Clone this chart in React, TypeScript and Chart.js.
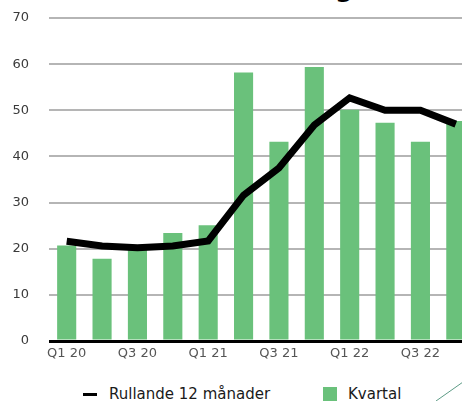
import React, { useEffect, useRef } from "react";
import { Chart, registerables } from "chart.js";

Chart.register(...registerables);

const categories = ["Q1 20", "Q2 20", "Q3 20", "Q4 20", "Q1 21", "Q2 21", "Q3 21", "Q4 21", "Q1 22", "Q2 22", "Q3 22", "Q4 22"];
const kvartal = [20.7, 17.8, 20.0, 23.4, 25.1, 58.2, 43.2, 59.4, 50.1, 47.3, 43.2, 47.7];
const rullande = [21.6, 20.6, 20.2, 20.6, 21.7, 31.6, 37.5, 46.8, 52.7, 50.0, 50.0, 47.0];
const yTicks = [0, 10, 20, 30, 40, 50, 60, 70];
const legendLine = "Rullande 12 månader";
const legendBar = "Kvartal";

const GREEN = "#6ac17b";
const FONT = "'DejaVu Sans', sans-serif";

export default function App() {
  const ref = useRef<HTMLCanvasElement | null>(null);
  useEffect(() => {
    if (!ref.current) return;
    const chart = new Chart(ref.current, {
      type: "bar",
      data: {
        labels: categories,
        datasets: [
          {
            type: "line",
            label: legendLine,
            data: rullande,
            borderColor: "#000000",
            borderWidth: 7,
            pointRadius: 0,
            tension: 0,
            fill: false,
            order: 0,
          } as any,
          {
            type: "bar",
            label: legendBar,
            data: kvartal,
            backgroundColor: GREEN,
            borderWidth: 0,
            barPercentage: 0.54,
            categoryPercentage: 1,
            order: 1,
          },
        ],
      },
      options: {
        animation: false,
        responsive: false,
        devicePixelRatio: 1,
        layout: { autoPadding: false, padding: { top: 18, right: 6.5, left: 0, bottom: 0 } },
        plugins: { legend: { display: false }, tooltip: { enabled: false }, title: { display: false } },
        scales: {
          x: {
            grid: { display: false, drawTicks: false },
            border: { display: false },
            ticks: {
              autoSkip: false,
              maxRotation: 0,
              padding: 5,
              color: "#555555",
              font: { family: FONT, size: 13 },
              callback: (_v: any, i: number) => (i % 2 === 0 ? categories[i] : ""),
            },
            afterFit: (s: any) => {
              s.height = 31;
              s.paddingLeft = 0;
              s.paddingRight = 0;
            },
          },
          y: {
            min: 0,
            max: 70,
            afterBuildTicks: (s: any) => {
              s.ticks = yTicks.map((v) => ({ value: v }));
            },
            grid: {
              drawTicks: false,
              color: (c: any) => (c.tick && c.tick.value === 0 ? "#000000" : "#b5b5b5"),
              lineWidth: (c: any) => (c.tick && c.tick.value === 0 ? 3 : 2),
            },
            border: { display: false },
            ticks: {
              padding: 20,
              color: "#3a3a3a",
              font: { family: FONT, size: 13 },
            },
            afterFit: (s: any) => {
              s.width = 49;
              s.paddingTop = 0;
              s.paddingBottom = 0;
            },
          },
        },
      },
    });
    return () => chart.destroy();
  }, []);

  return (
    <div style={{ position: "fixed", left: 0, top: 0, width: 462, height: 401, overflow: "hidden", background: "#fff", fontFamily: FONT }}>
      <div style={{ position: "absolute", left: 335, top: -26, fontSize: 26, fontWeight: "bold", color: "#000", lineHeight: "26px", whiteSpace: "nowrap" }}>g,</div>
      <canvas ref={ref} width={480} height={372} style={{ position: "absolute", left: 0, top: 0, width: 480, height: 372 }} />
      <div style={{ position: "absolute", left: 83, top: 393, width: 14, height: 3, background: "#000" }} />
      <div style={{ position: "absolute", left: 109, top: 387, fontSize: 15, lineHeight: "15px", color: "#1a1a1a", whiteSpace: "nowrap" }}>{legendLine}</div>
      <div style={{ position: "absolute", left: 323, top: 387, width: 14, height: 14, background: GREEN }} />
      <div style={{ position: "absolute", left: 348, top: 387, fontSize: 15, lineHeight: "15px", color: "#1a1a1a", whiteSpace: "nowrap" }}>{legendBar}</div>
      <svg style={{ position: "absolute", left: 0, top: 0 }} width={462} height={401}>
        <line x1={436} y1={401} x2={463} y2={382} stroke="#5d9b86" strokeWidth={1} />
      </svg>
    </div>
  );
}
